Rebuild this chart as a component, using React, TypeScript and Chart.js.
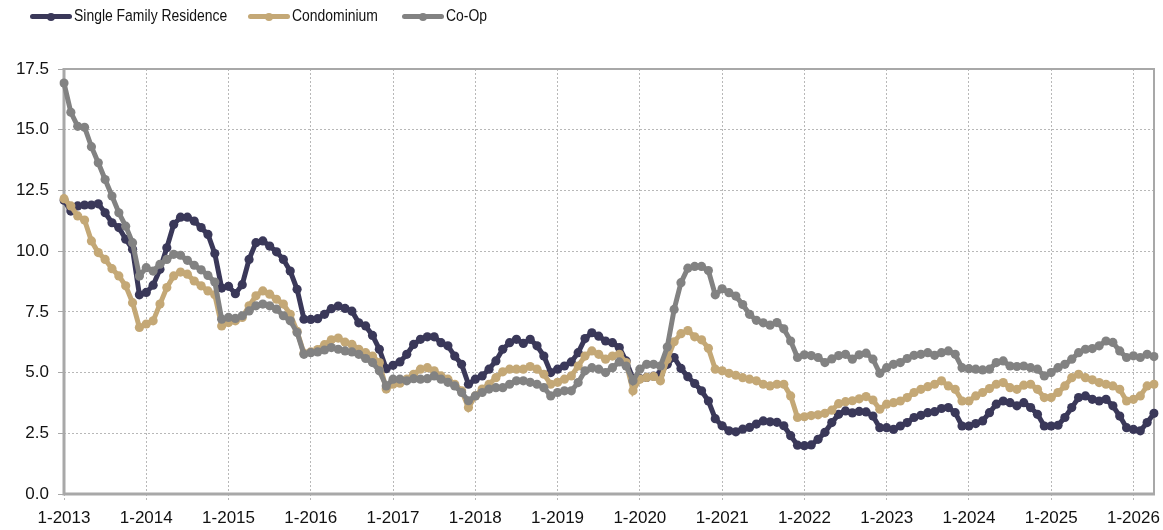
import React, { useEffect, useRef } from "react";
import { Chart, registerables } from "chart.js";

Chart.register(...registerables);

// ---- categories ----
const years = [2013, 2014, 2015, 2016, 2017, 2018, 2019, 2020, 2021, 2022, 2023, 2024, 2025, 2026];
const monthNumbers = [1, 2, 3, 4, 5, 6, 7, 8, 9, 10, 11, 12];
const lastMonthOfData = "4-2026";

const months: string[] = [];
for (const y of years) {
  for (const m of monthNumbers) {
    const label = `${m}-${y}`;
    months.push(label);
    if (label === lastMonthOfData) break;
  }
}

// ---- series values, Jan 2013 .. Apr 2026 ----
const singleFamily = [
  12.1, 11.65, 11.86, 11.9, 11.9, 11.95, 11.58, 11.17, 10.97, 10.49, 10.08, 8.2,
  8.3, 8.6, 9.25, 10.14, 11.1, 11.4, 11.4, 11.24, 10.97, 10.69, 9.9, 8.48,
  8.55, 8.25, 8.62, 9.66, 10.35, 10.42, 10.21, 9.97, 9.66, 9.18, 8.43, 7.2,
  7.19, 7.22, 7.4, 7.63, 7.74, 7.64, 7.53, 7.05, 6.92, 6.53, 5.96, 5.16,
  5.3, 5.44, 5.75, 6.16, 6.37, 6.47, 6.47, 6.23, 6.1, 5.68, 5.34, 4.52,
  4.73, 4.86, 5.14, 5.48, 5.96, 6.23, 6.37, 6.2, 6.37, 6.1, 5.68, 5.0,
  5.14, 5.27, 5.44, 5.82, 6.4, 6.64, 6.5, 6.3, 6.23, 6.03, 5.48, 4.75,
  4.75, 4.8, 4.85, 4.95, 5.34, 5.62, 5.17, 4.83, 4.55, 4.25, 3.83, 3.1,
  2.81, 2.6, 2.56, 2.67, 2.74, 2.88, 3.01, 2.97, 2.95, 2.81, 2.4, 2.01,
  1.99, 2.02, 2.25, 2.54, 2.94, 3.28, 3.42, 3.34, 3.4, 3.38, 3.21, 2.73,
  2.73, 2.66, 2.8, 2.94, 3.15, 3.24, 3.35, 3.39, 3.52, 3.56, 3.35, 2.8,
  2.8, 2.9, 3.01, 3.35, 3.7, 3.83, 3.76, 3.63, 3.76, 3.56, 3.28, 2.8,
  2.8, 2.83, 3.15, 3.56, 3.97, 4.04, 3.9, 3.83, 3.9, 3.63, 3.21, 2.73,
  2.66, 2.6, 2.94, 3.32,
];

const condominium = [
  12.16, 11.86, 11.45, 11.28, 10.42, 9.94, 9.66, 9.28, 8.98, 8.57, 7.88, 6.86,
  7.0, 7.13, 7.82, 8.5, 8.98, 9.14, 9.05, 8.77, 8.57, 8.36, 8.2, 6.92,
  7.06, 7.13, 7.27, 7.75, 8.16, 8.36, 8.23, 8.02, 7.82, 7.4, 6.7, 5.8,
  5.85, 5.95, 6.15, 6.35, 6.42, 6.25, 6.16, 5.96, 5.82, 5.68, 5.41, 4.32,
  4.52, 4.56, 4.73, 4.93, 5.14, 5.2, 5.07, 4.86, 4.73, 4.52, 4.25, 3.56,
  4.04, 4.32, 4.52, 4.79, 5.03, 5.14, 5.14, 5.14, 5.25, 5.14, 4.93, 4.52,
  4.6, 4.73, 4.86, 5.27, 5.68, 5.89, 5.75, 5.55, 5.68, 5.75, 5.41, 4.25,
  4.73, 4.8, 4.84, 4.66, 5.55, 6.27, 6.6, 6.73, 6.47, 6.35, 6.0, 5.14,
  5.07, 4.97, 4.89, 4.79, 4.73, 4.66, 4.52, 4.45, 4.52, 4.52, 4.04, 3.15,
  3.18, 3.23, 3.26, 3.32, 3.45, 3.72, 3.8, 3.84, 3.92, 4.01, 3.87, 3.49,
  3.7, 3.76, 3.83, 3.97, 4.18, 4.31, 4.42, 4.52, 4.66, 4.45, 4.31, 3.83,
  3.83, 4.04, 4.18, 4.34, 4.52, 4.59, 4.38, 4.31, 4.48, 4.52, 4.31, 3.97,
  3.97, 4.18, 4.45, 4.79, 4.93, 4.79, 4.7, 4.59, 4.52, 4.45, 4.31, 3.83,
  3.9, 4.04, 4.45, 4.52,
];

const coOp = [
  16.92, 15.72, 15.14, 15.1, 14.3, 13.64, 12.95, 12.27, 11.58, 11.03, 10.35, 8.98,
  9.32, 9.18, 9.46, 9.66, 9.87, 9.83, 9.62, 9.42, 9.23, 9.0, 8.73, 7.2,
  7.27, 7.23, 7.34, 7.54, 7.75, 7.82, 7.75, 7.61, 7.34, 7.13, 6.65, 5.75,
  5.82, 5.85, 5.93, 6.03, 5.96, 5.89, 5.85, 5.75, 5.58, 5.41, 5.07, 4.45,
  4.73, 4.73, 4.66, 4.75, 4.73, 4.75, 4.86, 4.73, 4.6, 4.45, 4.18, 3.84,
  4.04, 4.18, 4.32, 4.38, 4.38, 4.52, 4.66, 4.66, 4.6, 4.52, 4.38, 4.04,
  4.18, 4.25, 4.25, 4.59, 5.07, 5.2, 5.14, 5.0, 5.2, 5.44, 5.27, 4.66,
  5.14, 5.34, 5.34, 5.27, 6.05, 7.6, 8.7, 9.3, 9.37, 9.37, 9.2, 8.2,
  8.45, 8.29, 8.15, 7.8, 7.4, 7.15, 7.05, 6.95, 7.06, 6.8, 6.3, 5.62,
  5.73, 5.7, 5.62, 5.41, 5.56, 5.7, 5.75, 5.55, 5.73, 5.8, 5.55, 4.97,
  5.2, 5.34, 5.41, 5.58, 5.71, 5.75, 5.82, 5.71, 5.82, 5.89, 5.75, 5.2,
  5.16, 5.14, 5.11, 5.14, 5.41, 5.48, 5.27, 5.25, 5.27, 5.2, 5.14, 4.86,
  5.0, 5.2, 5.34, 5.55, 5.82, 5.96, 5.99, 6.1, 6.3, 6.24, 5.89, 5.62,
  5.69, 5.62, 5.75, 5.66,
];

const seriesNames = ["Single Family Residence", "Condominium", "Co-Op"];
const seriesColors = ["#3a3859", "#c4a876", "#828282"];

const Y_MIN = 0;
const Y_MAX = 17.5;
const Y_STEP = 2.5;

const FRAME_COLOR = "#a8a8a8";
const GRID_COLOR = "#b8b8b8";
const TEXT_FONT = "'Liberation Sans', Arial, Helvetica, sans-serif";

const framePlugin = {
  id: "frame",
  beforeDatasetsDraw(chart: any) {
    const { ctx, chartArea } = chart;
    const { left, right, top, bottom } = chartArea;
    ctx.save();
    ctx.strokeStyle = FRAME_COLOR;
    ctx.lineCap = "butt";
    ctx.lineWidth = 2;
    ctx.beginPath();
    ctx.moveTo(left, top);
    ctx.lineTo(right, top);
    ctx.lineTo(right, bottom);
    ctx.stroke();
    ctx.lineWidth = 3;
    ctx.beginPath();
    ctx.moveTo(left, top - 1);
    ctx.lineTo(left, bottom);
    ctx.lineTo(right + 1, bottom);
    ctx.stroke();
    ctx.restore();
  },
};

function LegendItem({ left, textLeft, color, label }: { left: number; textLeft: number; color: string; label: string }) {
  return (
    <>
      <div
        style={{
          position: "absolute",
          left,
          top: 14,
          width: 42,
          height: 5,
          borderRadius: 2.5,
          background: color,
        }}
      />
      <div
        style={{
          position: "absolute",
          left: left + 17,
          top: 12.5,
          width: 8,
          height: 8,
          borderRadius: 4,
          background: color,
        }}
      />
      <div
        style={{
          position: "absolute",
          left: textLeft,
          top: 6,
          height: 20,
          lineHeight: "20px",
          fontFamily: TEXT_FONT,
          fontSize: 16.8,
          color: "#111",
          whiteSpace: "nowrap",
          transform: "scaleX(0.83)",
          transformOrigin: "left center",
        }}
      >
        {label}
      </div>
    </>
  );
}

export default function App() {
  const canvasRef = useRef<HTMLCanvasElement | null>(null);

  useEffect(() => {
    const canvas = canvasRef.current;
    if (!canvas) return;
    const seriesValues = [singleFamily, condominium, coOp];
    const chart = new Chart(canvas, {
      type: "line",
      data: {
        labels: months,
        datasets: seriesNames.map((name, i) => ({
          label: name,
          data: seriesValues[i],
          borderColor: seriesColors[i],
          backgroundColor: seriesColors[i],
          pointBackgroundColor: seriesColors[i],
          pointBorderWidth: 0,
          pointRadius: 4.6,
          borderWidth: 5,
          tension: 0,
          fill: false,
          order: seriesNames.length - i,
        })),
      },
      options: {
        responsive: false,
        animation: false,
        layout: { padding: { top: 69, right: 9, left: 0, bottom: 0 } },
        plugins: {
          legend: { display: false },
          tooltip: { enabled: false },
        },
        scales: {
          x: {
            type: "category",
            offset: false,
            afterFit: (s: any) => {
              s.height = 36;
            },
            border: { display: false, dash: [2, 2] },
            grid: {
              color: GRID_COLOR,
              lineWidth: (c: any) => (c.index % 12 === 0 ? 1 : 0),
              tickWidth: (c: any) => (c.index % 12 === 0 ? 1 : 0),
              tickColor: GRID_COLOR,
              tickLength: 6,
              tickBorderDash: [2, 2],
              drawTicks: true,
            },
            ticks: {
              autoSkip: false,
              maxRotation: 0,
              minRotation: 0,
              padding: 8,
              color: "#111",
              font: { family: TEXT_FONT, size: 17 },
              callback: function (this: any, value: any, index: number) {
                return index % 12 === 0 ? this.getLabelForValue(value) : "";
              },
            },
          },
          y: {
            min: Y_MIN,
            max: Y_MAX,
            afterFit: (s: any) => {
              s.width = 64;
            },
            border: { display: false, dash: [2, 2] },
            grid: {
              color: GRID_COLOR,
              lineWidth: 1,
              tickLength: 6,
              tickColor: FRAME_COLOR,
              tickBorderDash: [],
              drawTicks: true,
            },
            ticks: {
              stepSize: Y_STEP,
              padding: 9,
              color: "#111",
              font: { family: TEXT_FONT, size: 17 },
              callback: (v: any) => Number(v).toFixed(1),
            },
          },
        },
      },
      plugins: [framePlugin],
    });
    return () => chart.destroy();
  }, []);

  return (
    <div
      style={{
        position: "fixed",
        left: 0,
        top: 0,
        width: 1163,
        height: 530,
        background: "#fff",
        overflow: "hidden",
      }}
    >
      <canvas ref={canvasRef} width={1163} height={530} style={{ display: "block" }} />
      <LegendItem left={30} textLeft={74} color={seriesColors[0]} label={seriesNames[0]} />
      <LegendItem left={248} textLeft={292} color={seriesColors[1]} label={seriesNames[1]} />
      <LegendItem left={402} textLeft={446} color={seriesColors[2]} label={seriesNames[2]} />
    </div>
  );
}
